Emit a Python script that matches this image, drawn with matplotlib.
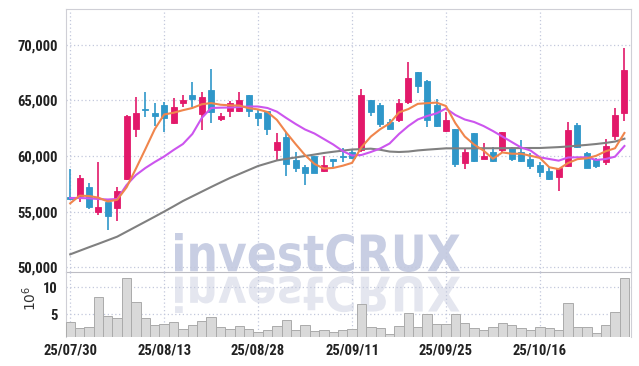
import matplotlib
matplotlib.use("Agg")
import matplotlib.pyplot as plt
import numpy as np
import pandas as pd
from matplotlib.textpath import TextPath
from matplotlib.patches import PathPatch
from matplotlib.font_manager import FontProperties, fontManager
from matplotlib.transforms import Affine2D

# ---------------- data ----------------
opens = [56300, 56430, 57180, 54990, 55890, 55350, 57900, 62460, 64230, 63870,
         64560, 63000, 64800, 65490, 63810, 65940, 63360, 64080, 64080, 65490,
         63840, 64050, 60570, 61740, 59640, 59040, 60000, 58680, 59760, 60000,
         60360, 60540, 65040, 64590, 63060, 63210, 64830, 67530, 66750, 64590,
         62280, 62400, 59400, 62040, 59760, 60390, 60540, 60690, 60330, 59760,
         59190, 58650, 58080, 59100, 62790, 60300, 59700, 59490, 61830, 63840]
highs = [58800, 58290, 57600, 59430, 56040, 57180, 63700, 65280, 65730, 64740,
         64860, 65200, 65460, 66630, 65730, 67800, 63870, 64950, 65790, 65490,
         64140, 64050, 62100, 62190, 60390, 59160, 60030, 60000, 59760, 60750,
         60540, 66000, 65040, 64800, 63300, 65100, 68490, 67590, 66800, 65100,
         64000, 62430, 60690, 62100, 61140, 60780, 62190, 60840, 61440, 60240,
         59490, 59040, 58900, 63090, 62940, 60390, 59790, 61500, 64290, 69690]
lows = [56000, 55890, 55230, 54690, 53340, 54180, 57800, 61680, 63480, 62700,
        62160, 62900, 64440, 64440, 62340, 63000, 63150, 63480, 63990, 63540,
        62700, 61890, 59640, 58200, 58590, 57390, 58470, 58590, 59040, 59490,
        59700, 60360, 63600, 62580, 62400, 63090, 64700, 65640, 62580, 62580,
        62200, 59040, 58800, 59500, 59700, 59490, 60390, 59580, 59500, 58800,
        58140, 57840, 56880, 58980, 60690, 58920, 58950, 59190, 61440, 63180]
closes = [56100, 57990, 55440, 55380, 54630, 56850, 63600, 63900, 64140, 63600,
          63450, 64380, 65040, 65130, 65280, 63990, 63630, 64770, 65040, 64080,
          63450, 62460, 61230, 59310, 58890, 58500, 58500, 59160, 59580, 59880,
          59790, 65490, 63990, 62910, 62460, 64770, 66990, 66330, 63240, 62700,
          63240, 59280, 60330, 59580, 60000, 59580, 62130, 59730, 59580, 59100,
          58590, 57930, 58890, 62340, 60840, 58950, 59100, 60900, 63690, 67740]
volumes_m = [3.46, 2.35, 2.54, 8.09, 4.63, 4.26, 11.6, 7.17, 4.2, 2.9,
             3.09, 3.46, 2.17, 2.96, 3.65, 4.39, 2.54, 2.17, 2.72, 2.17,
             1.6, 1.98, 2.72, 3.83, 1.98, 2.9, 1.8, 1.98, 1.6, 1.98,
             2.17, 6.79, 2.54, 2.35, 1.24, 2.72, 5.12, 2.54, 5.0, 3.09,
             3.09, 5.0, 3.27, 2.35, 1.98, 2.54, 3.27, 2.9, 2.35, 1.98,
             2.54, 2.35, 1.98, 6.98, 2.54, 2.54, 1.42, 2.9, 5.31, 11.6]
# first four 5-day MA values (need earlier history)
ma5_head = [55740, 56430, 56400, 56250]
ma20 = [56220, 56220, 56190, 56130, 56085, 56130, 57390, 58290, 58920, 59460,
        59955, 60540, 61080, 61980, 63420, 64320, 64350, 64365, 64410, 64455,
        64455, 64320, 63990, 63420, 62880, 62385, 62025, 61530, 61035, 60450,
        60045, 60090, 60360, 60675, 61125, 61980, 62700, 63285, 63600, 63840,
        64275, 63690, 63285, 63060, 62700, 62250, 61755, 61260, 60765, 60495,
        59880, 59730, 59580, 59865, 59880, 59880, 59640, 59730, 59940, 60900]
ma60 = [51150, 51470, 51790, 52100, 52420, 52740, 53190, 53640, 54090, 54540,
        55000, 55470, 55950, 56370, 56790, 57210, 57620, 58020, 58380, 58740,
        59100, 59350, 59600, 59740, 59870, 60000, 60130, 60270, 60380, 60480,
        60585, 60620, 60660, 60560, 60400, 60360, 60400, 60500, 60570, 60630,
        60690, 60690, 60690, 60690, 60700, 60700, 60700, 60710, 60710, 60720,
        60720, 60760, 60800, 60855, 60930, 61000, 61080, 61180, 61300, 61560]
date_tick_pos = [0, 10, 20, 30, 40, 50]
date_tick_labels = ["25/07/30", "25/08/13", "25/08/28", "25/09/11", "25/09/25", "25/10/16"]
price_ticks = [50000, 55000, 60000, 65000, 70000]
volume_ticks = [5, 10]

# ---------------- font choice (prefer a condensed bold face) ----------------
names = {f.name for f in fontManager.ttflist}
cond = [(f.name, f.stretch) for f in fontManager.ttflist]
FAM, STRETCH = "DejaVu Sans", "normal"
for cand in ["Roboto Condensed", "Liberation Sans Narrow", "Open Sans Condensed",
             "DejaVu Sans Condensed", "Arial Narrow"]:
    if cand in names:
        FAM = cand
        break
else:
    for n, st in cond:
        if n == "DejaVu Sans" and str(st) in ("condensed", "semi-condensed", "75", "87"):
            STRETCH = "condensed"
            break
LBL = dict(family=[FAM, "DejaVu Sans"], weight="bold", stretch=STRETCH)

UP = "#e2196a"
DOWN = "#2f97c9"
GRID = "#c3c8dc"
SPINE = "#cfcfd6"

W, H = 639, 366
fig = plt.figure(figsize=(W / 100, H / 100), dpi=100)
fig.patch.set_facecolor("white")
L, R = 66, 631
ax = fig.add_axes([L / W, (H - 272) / H, (R - L) / W, (272 - 9) / H])
axv = fig.add_axes([L / W, (H - 337) / H, (R - L) / W, (337 - 272) / H], sharex=ax)
for a in (ax, axv):
    a.set_facecolor("none")

x = np.arange(len(closes))
o = np.array(opens); c = np.array(closes); h = np.array(highs); l = np.array(lows)
up = c >= o
colors = np.where(up, UP, DOWN)

ax.vlines(x, l, h, colors=colors, linewidth=1.2, zorder=3)
body_bottom = np.minimum(o, c)
body_h = np.maximum(np.abs(c - o), 90)
ax.bar(x, body_h, bottom=body_bottom, width=0.64, color=colors,
       edgecolor=colors, linewidth=0.6, zorder=4)

ma5 = pd.Series(closes, dtype=float).rolling(5).mean().to_numpy()
ma5[:4] = ma5_head
ax.plot(x, ma60, color="#808080", lw=1.5, zorder=5)
ax.plot(x, ma20, color="#cc55ee", lw=1.5, zorder=5)
ax.plot(x, ma5, color="#f0854c", lw=1.5, zorder=6)

ax.set_xlim(-0.45, 59.7)
ax.set_ylim(49560, 73230)
ax.set_yticks(price_ticks)
ax.set_yticklabels([f"{v:,}" for v in price_ticks], fontsize=10.5, color="#222222", **LBL)
ax.set_xticks(date_tick_pos)
ax.tick_params(axis="x", labelbottom=False, length=0)
ax.tick_params(axis="y", length=0, pad=6)
ax.grid(True, color=GRID, linestyle=(0, (1, 2)), linewidth=0.9)
for s in ["left", "top", "right"]:
    ax.spines[s].set_color(SPINE)
ax.spines["bottom"].set_color("#bdbdc4")

# volume
axv.bar(x, volumes_m, width=1.0, color="#d9d9d9", edgecolor="#ababab", linewidth=0.7, zorder=3)
axv.set_ylim(0.74, 12.78)
axv.set_yticks(volume_ticks)
axv.set_yticklabels([str(v) for v in volume_ticks], fontsize=10.5, color="#222222", **LBL)
axv.tick_params(axis="y", length=0, pad=6)
axv.set_xticks(date_tick_pos)
axv.set_xticklabels(date_tick_labels, fontsize=10.5, color="#222222", **LBL)
axv.tick_params(axis="x", length=0, pad=5)
axv.grid(True, color=GRID, linestyle=(0, (1, 2)), linewidth=0.9)
axv.spines["top"].set_visible(False)
axv.spines["bottom"].set_visible(False)
for s in ["left", "right"]:
    axv.spines[s].set_color(SPINE)
fig.text(30 / W, 1 - 298 / H, r"$10^6$", rotation=90, ha="center", va="center",
         fontsize=10, color="#333333", family="DejaVu Sans")

# watermark with reflection
tp = TextPath((0, 0), "investCRUX", size=100,
              prop=FontProperties(family="DejaVu Sans", weight="bold"))
ext = tp.get_extents()
x0, x1 = 175, 460
sx = (x1 - x0) / ext.width
t_main = Affine2D().translate(-ext.x0, -ext.y0).scale(sx, 39 / ext.height).translate(x0, H - 272)
t_refl = Affine2D().translate(-ext.x0, -ext.y0).scale(sx, -37 / ext.height).translate(x0, H - 276)
fig.add_artist(PathPatch(tp, transform=t_main, facecolor="#c8cee3", edgecolor="none", zorder=-1))
fig.add_artist(PathPatch(tp, transform=t_refl, facecolor="#e4e6ef", edgecolor="none", zorder=-1))

fig.savefig("out.png", dpi=100)
